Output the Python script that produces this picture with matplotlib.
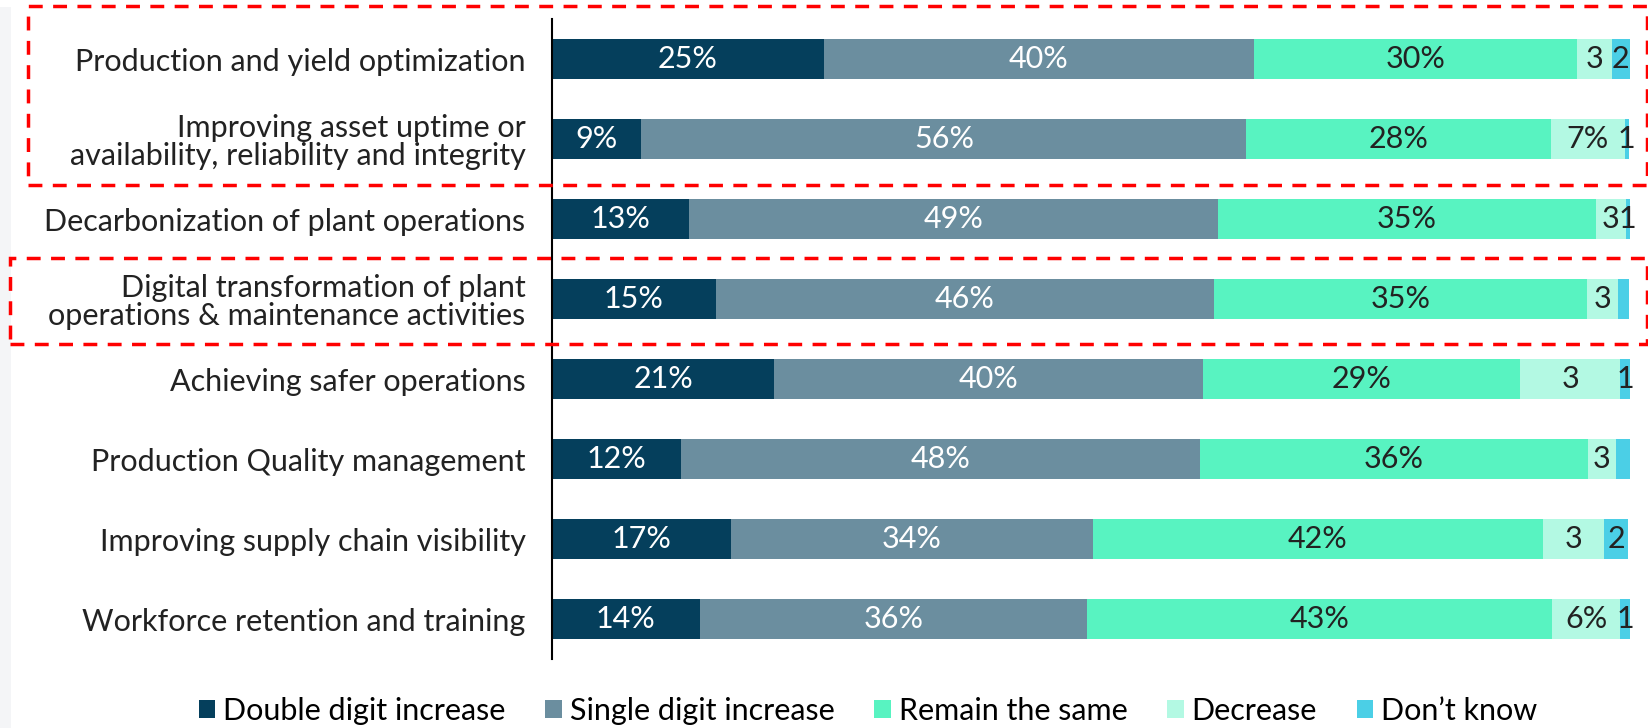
import numpy as np
import matplotlib.pyplot as plt
from matplotlib.patches import Rectangle

# categories (top to bottom)
categories = [
    'Production and yield optimization',
    'Improving asset uptime or\navailability, reliability and integrity',
    'Decarbonization of plant operations',
    'Digital transformation of plant\noperations & maintenance activities',
    'Achieving safer operations',
    'Production Quality management',
    'Improving supply chain visibility',
    'Workforce retention and training',
]
series = ['Double digit increase', 'Single digit increase', 'Remain the same',
          'Decrease', "Don\u2019t know"]

# segment widths (%)
double_digit = [25.2, 8.3, 12.7, 15.2, 20.6, 12.0, 16.6, 13.7]
single_digit = [39.9, 56.1, 49.1, 46.2, 39.8, 48.1, 33.6, 35.9]
remain_same = [30.0, 28.3, 35.0, 34.6, 29.4, 36.0, 41.7, 43.2]
decrease = [3.2, 6.8, 2.8, 2.9, 9.3, 2.6, 5.7, 6.3]
dont_know = [1.7, 0.4, 0.4, 1.0, 1.0, 1.4, 2.2, 1.0]

# printed labels
lbl_double = ['25%', '9%', '13%', '15%', '21%', '12%', '17%', '14%']
lbl_single = ['40%', '56%', '49%', '46%', '40%', '48%', '34%', '36%']
lbl_remain = ['30%', '28%', '35%', '35%', '29%', '36%', '42%', '43%']
lbl_decrease = ['3', '7%', '3', '3', '3', '3', '3', '6%']
lbl_dont_know = ['2', '1', '1', '', '1', '', '2', '1']

colors = ['#053F5C', '#6B8E9F', '#58F3C1', '#B3F9E3', '#4BCFE6']
text_colors = ['white', 'white', '#222222', '#222222', '#222222']

plt.rcParams['font.family'] = ['Lato', 'DejaVu Sans']
FS = 22

W, H = 1649, 728
fig = plt.figure(figsize=(W / 100, H / 100), dpi=100)

# light gray strip on the left edge
fig.patches.append(Rectangle((0, 0), 11 / W, 1 - 7 / H, transform=fig.transFigure,
                             facecolor='#F4F5F7', edgecolor='none', zorder=0))

ax = fig.add_axes([552 / W, 1 - 659 / H, (1630 - 552) / W, 640 / H])

data = [double_digit, single_digit, remain_same, decrease, dont_know]
labels = [lbl_double, lbl_single, lbl_remain, lbl_decrease, lbl_dont_know]
y = np.arange(len(categories))
left = np.zeros(len(categories))
for vals, lbls, c, tc, name in zip(data, labels, colors, text_colors, series):
    vals = np.array(vals)
    ax.barh(y, vals, left=left, height=0.5, color=c, label=name, edgecolor='none')
    for yi, l, v, t in zip(y, left, vals, lbls):
        if t:
            ax.text(l + v / 2, yi, t, ha='center', va='center', color=tc, fontsize=FS)
    left = left + vals

ax.set_xlim(0, 100)
ax.set_ylim(7.5, -0.5)
ax.set_yticks(y)
ax.set_yticklabels(categories, fontsize=FS, color='#222222', ha='right',
                   linespacing=1.0)
ax.tick_params(axis='y', length=0, pad=19)
ax.set_xticks([])
for s in ['top', 'right', 'bottom']:
    ax.spines[s].set_visible(False)
ax.spines['left'].set_color('black')
ax.spines['left'].set_linewidth(1.5)

# red dashed highlight boxes
for (x0, y0, x1, y1) in [(28, 6, 1647, 185), (10, 258, 1647, 344)]:
    fig.patches.append(Rectangle((x0 / W, 1 - y1 / H), (x1 - x0) / W, (y1 - y0) / H,
                                 transform=fig.transFigure, fill=False,
                                 edgecolor='#FF0000', linewidth=2.5,
                                 linestyle=(0, (4, 3)), zorder=5))

fig.legend(loc='center', bbox_to_anchor=(868 / W, 1 - 711 / H), ncol=5, frameon=False,
           fontsize=FS, handlelength=0.55, handleheight=0.55, handletextpad=0.25,
           columnspacing=1.3)

fig.savefig('out.png', dpi=100)
